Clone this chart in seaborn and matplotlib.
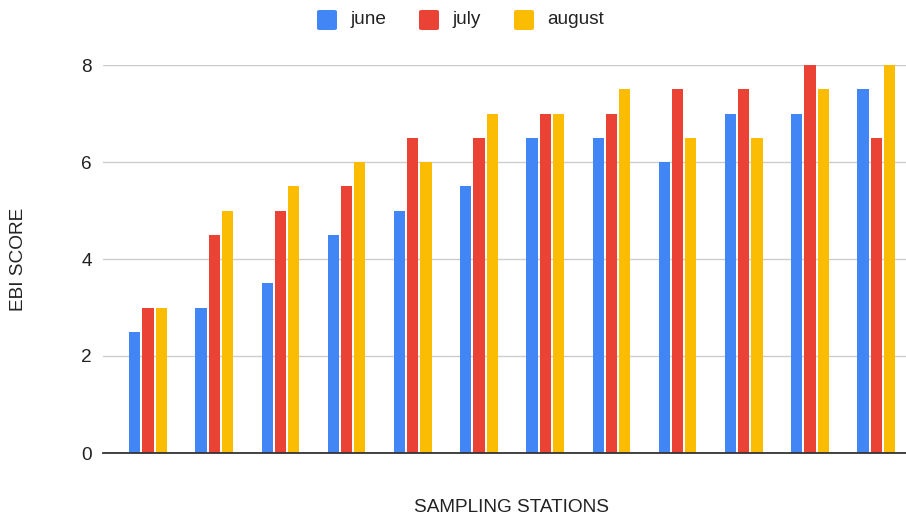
import matplotlib
matplotlib.use("Agg")
import matplotlib.pyplot as plt
import seaborn as sns
import pandas as pd
from matplotlib.patches import FancyBboxPatch

stations = [f"S{i}" for i in range(1, 13)]
june = [2.5, 3, 3.5, 4.5, 5, 5.5, 6.5, 6.5, 6, 7, 7, 7.5]
july = [3, 4.5, 5, 5.5, 6.5, 6.5, 7, 7, 7.5, 7.5, 8, 6.5]
august = [3, 5, 5.5, 6, 6, 7, 7, 7.5, 6.5, 6.5, 7.5, 8]
months = ["june", "july", "august"]
colors = ["#4285F4", "#EA4335", "#FBBC04"]
y_ticks = [0, 2, 4, 6, 8]

df = pd.DataFrame({"station": stations, "june": june, "july": july, "august": august})
long = df.melt(id_vars="station", var_name="month", value_name="score")

sns.set_theme(style="white")
plt.rcParams["font.family"] = ["Liberation Sans", "DejaVu Sans"]
FS = 13.7
TXT = "#222222"

fig = plt.figure(figsize=(9.06, 5.18), dpi=100)
ax = fig.add_axes([103 / 906, 1 - 453 / 518, 803 / 906, (453 - 65) / 518])

sns.barplot(data=long, x="station", y="score", hue="month", hue_order=months,
            palette=colors, width=0.6, gap=0.15, saturation=1, ax=ax,
            legend=False, edgecolor="none")

ax.set_ylim(0, 8)
ax.set_xlim(-0.68, 11.45)
ax.set_yticks(y_ticks)
ax.set_yticklabels([str(t) for t in y_ticks], fontsize=FS, color=TXT)
ax.tick_params(axis="y", length=0, pad=8)
ax.set_xticks([])
ax.yaxis.grid(True, color="#cccccc", linewidth=1)
ax.set_axisbelow(True)
for side in ["top", "right", "left"]:
    ax.spines[side].set_visible(False)
ax.spines["bottom"].set_color("#333333")
ax.spines["bottom"].set_linewidth(1.3)
ax.spines["bottom"].set_zorder(5)

ax.set_xlabel("")
ax.set_ylabel("")
fig.text(511 / 906, 1 - 508 / 518, "SAMPLING STATIONS", ha="center", va="center",
         fontsize=FS, color=TXT)
fig.text(19 / 906, 1 - 259 / 518, "EBI SCORE", ha="center", va="center",
         rotation=90, fontsize=FS, color=TXT)

# legend at top center with rounded square swatches
legend_items = [(317, 350, "june"), (419, 452, "july"), (514, 547, "august")]
for (sx, tx, label), color in zip(legend_items, colors):
    sw = FancyBboxPatch((sx / 906, 1 - 30 / 518), 20 / 906, 20 / 518,
                        boxstyle="round,pad=0,rounding_size=0.003",
                        transform=fig.transFigure, facecolor=color,
                        edgecolor="none")
    fig.patches.append(sw)
    fig.text(tx / 906, 1 - 20 / 518, label, ha="left", va="center",
             fontsize=FS, color=TXT)

fig.savefig("out.png", dpi=100)
